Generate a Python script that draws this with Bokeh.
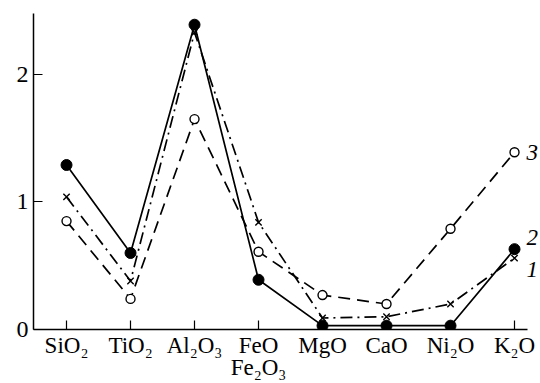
from bokeh.plotting import figure
from bokeh.models import FixedTicker, ColumnDataSource, LabelSet, Range1d
from bokeh.embed import file_html
from bokeh.resources import INLINE

# ---- data ----
oxides = ["SiO₂", "TiO₂", "Al₂O₃", "FeO\nFe₂O₃", "MgO", "CaO", "Ni₂O", "K₂O"]
series1 = [1.04, 0.38, 2.33, 0.84, 0.09, 0.10, 0.20, 0.56]   # dash-dot, x markers
series2 = [1.29, 0.60, 2.39, 0.39, 0.03, 0.03, 0.03, 0.63]   # solid, filled circles
series3 = [0.85, 0.24, 1.65, 0.61, 0.27, 0.20, 0.79, 1.39]   # dashed, open circles
series_labels = ["1", "2", "3"]
y_ticks = [0, 1, 2]

xs = list(range(len(oxides)))
FONT = "Liberation Serif"

p = figure(width=540, height=383, output_backend="svg", toolbar_location=None,
           x_range=Range1d(-0.516, 7.406), y_range=Range1d(0, 2.478),
           min_border_left=33, min_border_right=0, min_border_top=13, min_border_bottom=54)
p.outline_line_color = None
p.xgrid.visible = False
p.ygrid.visible = False
p.background_fill_color = "white"
p.border_fill_color = "white"

# series 3 : dashed, open circles
p.line(xs, series3, line_color="black", line_width=1.7, line_dash="12 7")
p.scatter(xs, series3, marker="circle", size=9, fill_color="white", line_color="black", line_width=1.4)
# series 1 : dash-dot, x markers
p.line(xs, series1, line_color="black", line_width=1.7, line_dash="12 5 2 5")
p.scatter(xs, series1, marker="x", size=9, line_color="black", line_width=1.4)
# series 2 : solid, filled circles
p.line(xs, series2, line_color="black", line_width=1.7)
p.scatter(xs, series2, marker="circle", size=11, fill_color="black", line_color="black")

# end labels
lab_src = ColumnDataSource(dict(
    x=[xs[-1]] * 3,
    y=[series1[-1], series2[-1], series3[-1]],
    text=series_labels,
    yoff=[-11, 12, 0],
))
p.add_layout(LabelSet(x="x", y="y", text="text", source=lab_src, x_offset=12, y_offset="yoff",
                      text_font=FONT, text_font_style="italic", text_font_size="23px",
                      text_baseline="middle", text_align="left", text_color="black"))

# axes
xa = p.xaxis[0]
xa.ticker = FixedTicker(ticks=xs)
xa.major_label_overrides = {i: t for i, t in enumerate(oxides)}
xa.bounds = (-0.516, 7.2)
xa.minor_tick_line_color = None
xa.major_tick_in = 9
xa.major_tick_out = 0
xa.major_label_standoff = 3
xa.major_label_text_font = FONT
xa.major_label_text_font_size = "23px"
xa.major_label_text_line_height = 0.9
xa.major_label_text_color = "black"
xa.axis_line_color = "black"
xa.axis_line_width = 1.5
xa.major_tick_line_width = 1.2

ya = p.yaxis[0]
ya.ticker = FixedTicker(ticks=y_ticks)
ya.minor_tick_line_color = None
ya.major_tick_in = 9
ya.major_tick_out = 0
ya.major_label_standoff = 5
ya.major_label_text_font = FONT
ya.major_label_text_font_size = "24px"
ya.major_label_text_color = "black"
ya.axis_line_color = "black"
ya.axis_line_width = 1.5
ya.major_tick_line_width = 1.2

open("out.html", "w").write(file_html(p, INLINE))
